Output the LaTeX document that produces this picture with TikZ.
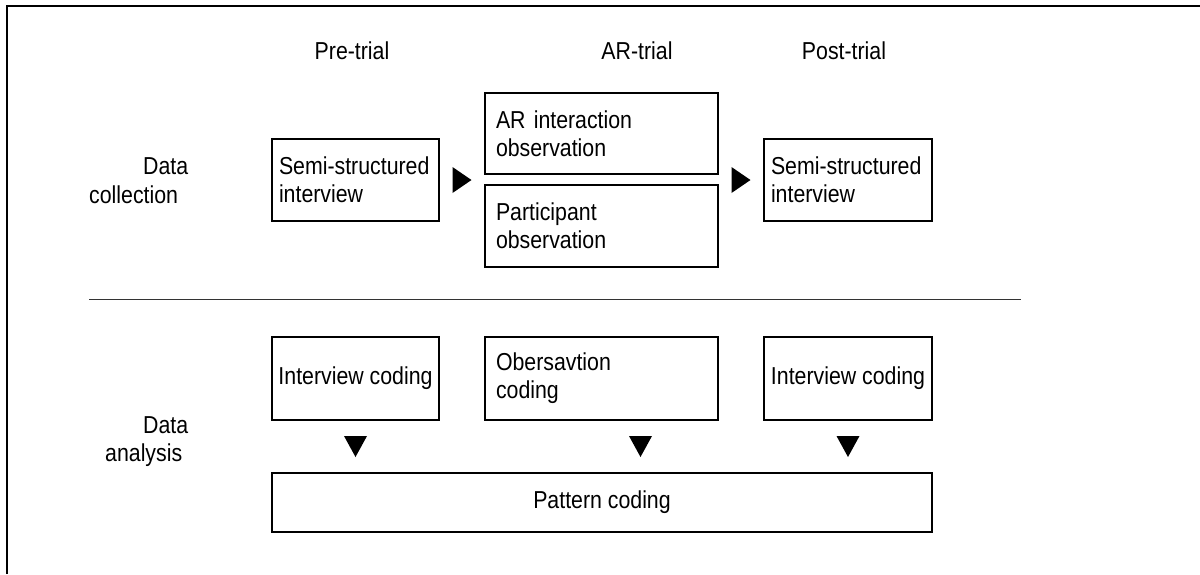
\documentclass[tikz,border=0pt]{standalone}
\usepackage{fontspec}
\setmainfont{Liberation Sans}[FakeStretch=0.87]
\usetikzlibrary{calc}
\begin{document}
\begin{tikzpicture}[x=1pt,y=-1pt,
  every node/.style={font=\fontsize{24.5}{28}\selectfont, inner sep=0pt},
  box/.style={draw, line width=1.8pt, minimum height=82pt},
  lbox/.style={box, align=left, inner xsep=#1},
  cbox/.style={box, align=center},
  label/.style={anchor=base west},
  tri/.style={fill=black}
]
\useasboundingbox (0,0) rectangle (1200,574);
% frame
\draw[line width=2pt] (6.5,574) -- (6.5,5.5) -- (1200,5.5);
% column titles
\node[anchor=base] (pre) at (352,59) {Pre-trial};
\node[anchor=base] (art) at (637,59) {AR-trial};
\node[anchor=base] (post) at (844,59) {Post-trial};
% row labels
\node[label] (dc1) at (143,174) {Data};
\node[label] (dc2) at (89,203) {collection};
\node[label] (da1) at (143,433) {Data};
\node[label] (da2) at (105,461) {analysis};
% data collection boxes
\node[lbox=7pt, text width=153pt, minimum width=167pt] (s1) at (355.5,180) {Semi-structured\\interview};
\node[lbox=11pt, text width=211pt, minimum width=233pt, minimum height=81pt] (ar) at (601.5,133.5) {AR interaction\\observation};
\node[lbox=11pt, text width=211pt, minimum width=233pt] (po) at (601.5,226) {Participant\\observation};
\node[lbox=7pt, text width=154pt, minimum width=168pt] (s2) at (848,180) {Semi-structured\\interview};
% separator
\draw[line width=1pt, black!80] (89,299) coordinate (sepL) -- (1021,299) coordinate (sepR);
% data analysis boxes
\node[cbox, minimum width=167pt, minimum height=83pt] (ic1) at (355.5,378.5) {Interview coding};
\node[lbox=11pt, text width=211pt, minimum width=233pt, minimum height=83pt] (oc) at (601.5,378.5) {Obersavtion\\coding};
\node[cbox, minimum width=168pt, minimum height=83pt] (ic2) at (848,378.5) {Interview coding};
\node[box, minimum width=660pt, minimum height=59pt] (pc) at (602,502.5) {Pattern coding};
% right-pointing triangles
\coordinate (t1) at ($(s1.east)!0.5!(ar.west |- s1.east)$);
\coordinate (t2) at ($(ar.east |- s2.west)!0.5!(s2.west)$);
\fill[tri] ($(t1)+(-9.5,-13)$) -- ($(t1)+(9.5,0)$) -- ($(t1)+(-9.5,13)$) -- cycle;
\fill[tri] ($(t2)+(-9.5,-13)$) -- ($(t2)+(9.5,0)$) -- ($(t2)+(-9.5,13)$) -- cycle;
% down-pointing triangles
\coordinate (d1) at ($(ic1.south)!0.5!(ic1.south |- pc.north)$);
\coordinate (d2) at ($(oc.south)!0.5!(oc.south |- pc.north) + (39,0)$);
\coordinate (d3) at ($(ic2.south)!0.5!(ic2.south |- pc.north)$);
\foreach \c in {d1,d2,d3}{
  \fill[tri] ($(\c)+(-11.5,-10.5)$) -- ($(\c)+(11.5,-10.5)$) -- ($(\c)+(0,10.5)$) -- cycle;
}
\end{tikzpicture}
\end{document}
